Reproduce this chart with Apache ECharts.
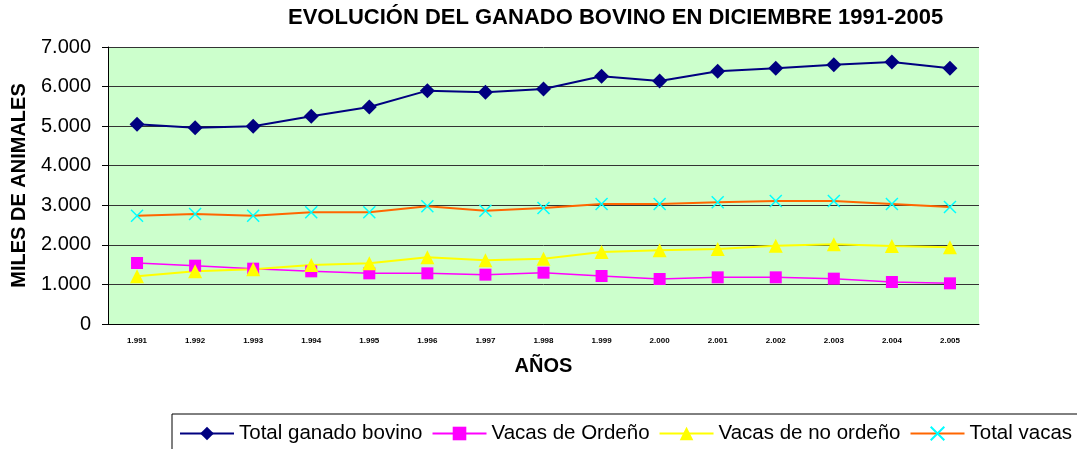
<!DOCTYPE html>
<html>
<head>
<meta charset="utf-8">
<script src="https://cdn.jsdelivr.net/npm/echarts@6/dist/echarts.min.js"></script>
<style>
  html, body { margin: 0; padding: 0; background: #fff; }
  #chart { width: 1077px; height: 449px; }
</style>
</head>
<body>
<div id="chart"></div>
<script>
// datos (miles de animales)
var anios = ['1.991', '1.992', '1.993', '1.994', '1.995', '1.996', '1.997', '1.998',
             '1.999', '2.000', '2.001', '2.002', '2.003', '2.004', '2.005'];
var totalBovino = [5047, 4962, 4995, 5248, 5484, 5897, 5855, 5939, 6260, 6141, 6386, 6462, 6554, 6621, 6462];
var vacasOrdeno = [1541, 1474, 1398, 1331, 1280, 1280, 1247, 1297, 1213, 1137, 1179, 1179, 1146, 1061, 1028];
var vacasNoOrdeno = [1204, 1331, 1381, 1491, 1533, 1685, 1609, 1651, 1820, 1862, 1895, 1979, 2014, 1971, 1938];
var totalVacas = [2737, 2780, 2737, 2822, 2822, 2974, 2864, 2931, 3033, 3033, 3075, 3108, 3108, 3033, 2957];

function miles(v) {
    return String(v).replace(/\B(?=(\d{3})+(?!\d))/g, '.');
}

var fuente = '"Liberation Sans", Arial, sans-serif';

//inicializar
var grafico = echarts.init(document.getElementById('chart'));

var option = {
    animation: false,
    backgroundColor: '#fff',
    textStyle: { fontFamily: fuente, color: '#000' },
    title: {
        text: 'EVOLUCIÓN DEL GANADO BOVINO EN DICIEMBRE 1991-2005',
        left: 288,
        top: 7,
        padding: 0,
        textStyle: { fontFamily: fuente, fontSize: 22, fontWeight: 'bold', color: '#000' }
    },
    legend: {
        left: 172,
        top: 414,
        width: 1000,
        padding: [9, 8, 20, 7],
        itemWidth: 54,
        itemHeight: 17,
        itemGap: 9,
        borderColor: '#000',
        borderWidth: 1,
        textStyle: { fontFamily: fuente, fontSize: 20.5, color: '#000' },
        data: ['Total ganado bovino', 'Vacas de Ordeño', 'Vacas de no ordeño', 'Total vacas']
    },
    grid: {
        left: 108,
        right: 98,
        top: 47,
        bottom: 125,
        show: true,
        backgroundColor: '#CCFFCC',
        borderWidth: 0
    },
    xAxis: {
        type: 'category',
        data: anios,
        name: 'AÑOS',
        nameLocation: 'middle',
        nameGap: 32,
        nameTextStyle: { fontFamily: fuente, fontSize: 20, fontWeight: 'bold', color: '#000' },
        axisLine: { lineStyle: { color: '#000', width: 1 } },
        axisTick: { length: 4, lineStyle: { color: '#000' } },
        axisLabel: { fontSize: 8, fontWeight: 'bold', color: '#000', margin: 13 }
    },
    yAxis: {
        type: 'value',
        min: 0,
        max: 7000,
        interval: 1000,
        name: 'MILES DE ANIMALES',
        nameLocation: 'middle',
        nameGap: 79,
        nameTextStyle: { fontFamily: fuente, fontSize: 20, fontWeight: 'bold', color: '#000' },
        axisLine: { show: true, lineStyle: { color: '#000', width: 1 } },
        axisTick: { show: true, length: 6, lineStyle: { color: '#000' } },
        axisLabel: { fontSize: 20, color: '#000', margin: 17, formatter: miles },
        splitLine: { lineStyle: { color: '#333', width: 1 } }
    },
    series: [
        {
            name: 'Total ganado bovino',
            type: 'line',
            data: totalBovino,
            symbol: 'diamond',
            symbolSize: 15,
            lineStyle: { color: '#000080', width: 2 },
            itemStyle: { color: '#000080' }
        },
        {
            name: 'Vacas de Ordeño',
            type: 'line',
            data: vacasOrdeno,
            symbol: 'rect',
            symbolSize: 12,
            lineStyle: { color: '#FF00FF', width: 1.5 },
            itemStyle: { color: '#FF00FF' }
        },
        {
            name: 'Vacas de no ordeño',
            type: 'line',
            data: vacasNoOrdeno,
            symbol: 'triangle',
            symbolSize: 14,
            lineStyle: { color: '#FFFF00', width: 2 },
            itemStyle: { color: '#FFFF00' }
        },
        {
            name: 'Total vacas',
            type: 'line',
            data: totalVacas,
            symbol: 'path://M0,0L10,10M10,0L0,10',
            symbolSize: 12,
            lineStyle: { color: '#FF6600', width: 2 },
            itemStyle: { color: '#00FFFF', borderColor: '#00FFFF', borderWidth: 1.5 }
        }
    ]
};

grafico.setOption(option);
</script>
</body>
</html>
